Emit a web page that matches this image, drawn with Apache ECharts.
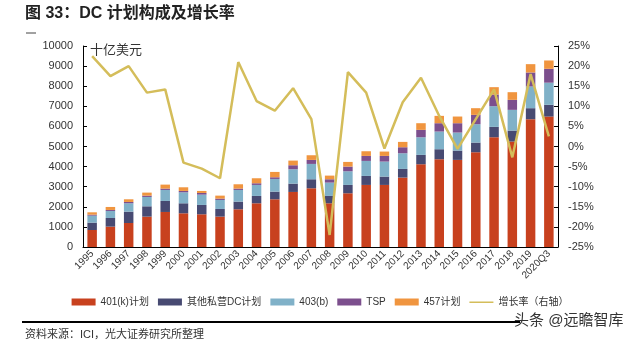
<!DOCTYPE html>
<html><head><meta charset="utf-8">
<script src="https://cdn.jsdelivr.net/npm/echarts@6/dist/echarts.min.js"></script>
<style>html,body{margin:0;padding:0;background:#fff}#c{width:640px;height:346px}</style>
</head><body><div id="c"></div>
<script>
const categories = ['1995','1996','1997','1998','1999','2000','2001','2002','2003','2004','2005','2006','2007','2008','2009','2010','2011','2012','2013','2014','2015','2016','2017','2018','2019','2020Q3'];
// segment values (billions USD)
const plan401k = [847,1013,1195,1511,1743,1677,1627,1511,1876,2175,2374,2739,2922,2175,2673,3088,3088,3453,4117,4366,4333,4714,5461,5246,6358,6490];
const otherDC  = [365,431,565,514,548,498,465,381,382,365,382,415,448,365,415,448,415,431,465,498,464,482,515,547,548,585];
const plan403b = [348,349,415,465,548,547,514,449,581,548,630,714,763,664,680,747,747,781,879,880,897,913,1030,1030,1079,1100];
const tsp      = [50,50,66,66,66,67,83,66,66,83,83,199,200,166,233,249,282,298,366,415,465,465,581,498,697,690];
const plan457  = [116,149,133,150,199,182,100,149,216,249,266,232,232,182,232,232,216,266,332,365,332,332,365,381,415,415];
const growth   = [22.5,17.5,20.0,13.4,14.2,-4.0,-5.5,-7.9,21.0,11.3,8.9,14.5,6.8,-22.0,18.5,13.4,-0.5,11.0,17.1,7.6,-0.6,6.8,14.2,-2.7,18.0,2.5];
const leftTicks = {min:0, max:10000, interval:1000};
const rightTicks = {min:-25, max:25, interval:5};

const colors = {k:'#c8411e', o:'#474a72', b:'#80b1c8', t:'#7c4f8d', f:'#f0953f', g:'#d4bd5a'};
const font = 'Liberation Sans, Arial, "Noto Sans CJK SC", sans-serif';
const chart = echarts.init(document.getElementById('c'), null, {renderer:'canvas'});
function bar(name, data, color){
  return {name, type:'bar', stack:'dc', data, barWidth:'52%', itemStyle:{color}, yAxisIndex:0};
}
const lineIcon = 'path://M0,0 L0.01,0 Z M0,3 L24,3 L24,4.6 L0,4.6 Z M0,7 L0.01,7 Z';
chart.setOption({
  animation:false,
  textStyle:{fontFamily:font},
  grid:{left:83, right:82, top:46, bottom:99, containLabel:false},
  legend:{
    left:'center', top:292, itemWidth:24, itemHeight:7, itemGap:9,
    textStyle:{fontSize:10, color:'#333', fontFamily:font},
    data:[{name:'401(k)计划',icon:'rect'},{name:'其他私营DC计划',icon:'rect'},{name:'403(b)',icon:'rect'},{name:'TSP',icon:'rect'},{name:'457计划',icon:'rect'},{name:'增长率（右轴）',icon:lineIcon}]
  },
  xAxis:{
    type:'category', data:categories, boundaryGap:true,
    axisLine:{lineStyle:{color:'#000',width:1}},
    axisTick:{inside:true,length:3,lineStyle:{color:'#000'}},
    axisLabel:{rotate:45, interval:0, fontSize:10, color:'#333', margin:5, fontFamily:font}
  },
  yAxis:[
    {type:'value', min:leftTicks.min, max:leftTicks.max, interval:leftTicks.interval,
     splitLine:{show:false},
     axisLine:{show:true,lineStyle:{color:'#000'}},
     axisTick:{show:true,inside:true,length:4,lineStyle:{color:'#000'}},
     axisLabel:{fontSize:11,color:'#333',margin:10,fontFamily:font,formatter:v=>String(v)}},
    {type:'value', min:rightTicks.min, max:rightTicks.max, interval:rightTicks.interval,
     splitLine:{show:false},
     axisLine:{show:true,lineStyle:{color:'#000'}},
     axisTick:{show:true,inside:true,length:4,lineStyle:{color:'#000'}},
     axisLabel:{fontSize:11,color:'#333',margin:10,formatter:'{value}%',fontFamily:font}}
  ],
  series:[
    bar('401(k)计划', plan401k, colors.k),
    bar('其他私营DC计划', otherDC, colors.o),
    bar('403(b)', plan403b, colors.b),
    bar('TSP', tsp, colors.t),
    bar('457计划', plan457, colors.f),
    {name:'增长率（右轴）', type:'line', yAxisIndex:1, data:growth, symbol:'none', showSymbol:false,
     lineStyle:{color:colors.g,width:2.5}, itemStyle:{color:colors.g}, z:5}
  ],
  graphic:[
    {type:'text', left:25, top:6, style:{text:'图 33：DC 计划构成及增长率', fontSize:16, fontWeight:'bold', fill:'#222', fontFamily:font}},
    {type:'line', shape:{x1:26,y1:33,x2:36,y2:33}, style:{stroke:'#444',lineWidth:1}},
    {type:'text', left:90, top:44, style:{text:'十亿美元', fontSize:13, fill:'#333', fontFamily:font}},
    {type:'line', shape:{x1:22,y1:322,x2:520,y2:322}, style:{stroke:'#000',lineWidth:2}},
    {type:'text', left:25, top:329, style:{text:'资料来源：ICI，光大证券研究所整理', fontSize:11, fill:'#333', fontFamily:font}},
    {type:'text', left:514, top:313, style:{text:'头条 @远瞻智库', fontSize:15, fill:'#333', fontFamily:font}}
  ]
});
</script></body></html>
